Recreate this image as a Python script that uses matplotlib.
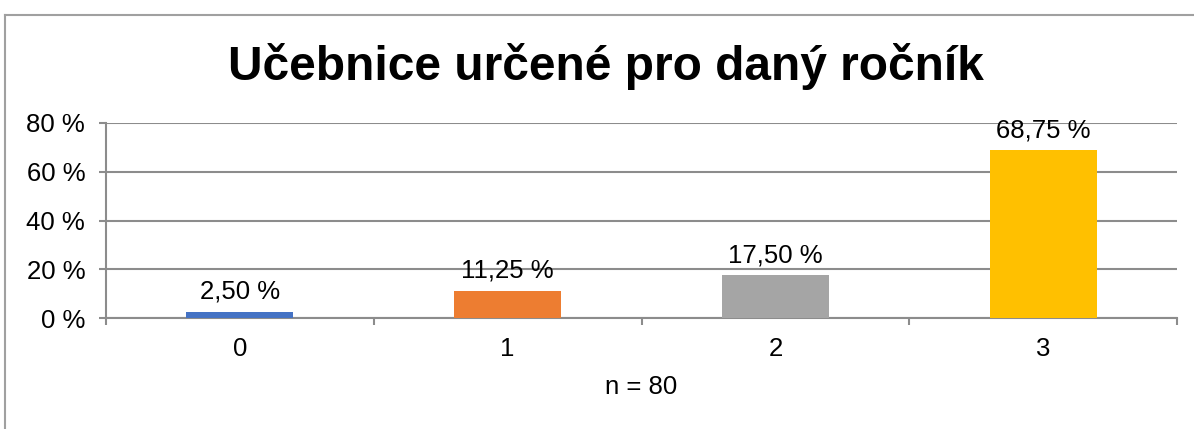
import numpy as np
import matplotlib.pyplot as plt
from matplotlib.lines import Line2D

plt.rcParams['font.family'] = ['Liberation Sans', 'DejaVu Sans']

# data
kategorie = ['0', '1', '2', '3']
procenta = [2.50, 11.25, 17.50, 68.75]
barvy = ['#4472C4', '#ED7D31', '#A5A5A5', '#FFC000']
y_ticks = [0, 20, 40, 60, 80]

sedá = '#8C8C8C'
fs = 18.5

fig = plt.figure(figsize=(11.94, 4.29), dpi=100)
ax = fig.add_axes([106 / 1194, 1 - 318 / 429, (1177 - 106) / 1194, (318 - 123) / 429])

x = np.arange(len(kategorie))
ax.bar(x, procenta, width=0.4, color=barvy, zorder=3)

for xi, v in zip(x, procenta):
    ax.annotate(f"{v:.2f}".replace('.', ',') + ' %', (xi, v), xytext=(0, 6),
                textcoords='offset points', ha='center', va='bottom', fontsize=fs)

ax.set_xlim(-0.5, len(kategorie) - 0.5)
ax.set_ylim(0, 80)
ax.set_yticks(y_ticks)
ax.set_yticklabels([f"{t} %" for t in y_ticks], fontsize=fs)
ax.set_xticks(x)
ax.set_xticklabels(kategorie, fontsize=fs)
ax.set_xticks(np.arange(-0.5, len(kategorie)), minor=True)
ax.tick_params(axis='x', which='major', length=0, pad=14)
ax.tick_params(axis='x', which='minor', length=5, width=1.5, color=sedá)
ax.tick_params(axis='y', length=5, width=1.5, color=sedá, pad=10)
ax.grid(axis='y', color=sedá, linewidth=1.5, zorder=0)
ax.set_axisbelow(True)
for s in ['top', 'right']:
    ax.spines[s].set_visible(False)
for s in ['left', 'bottom']:
    ax.spines[s].set_color(sedá)
    ax.spines[s].set_linewidth(1.5)
ax.set_xlabel('n = 80', fontsize=fs, labelpad=10)

fig.text(0.5075, 1 - 67 / 429, 'Učebnice určené pro daný ročník', ha='center', va='center',
         fontsize=34.5, fontweight='bold')

# ramecek grafu
fig.add_artist(Line2D([5 / 1194, 5 / 1194], [0, 1 - 15 / 429], transform=fig.transFigure,
                      color='#A0A0A0', linewidth=1.5))
fig.add_artist(Line2D([5 / 1194, 1], [1 - 15 / 429, 1 - 15 / 429], transform=fig.transFigure,
                      color='#A0A0A0', linewidth=1.5))

fig.savefig('out.png', dpi=100)
